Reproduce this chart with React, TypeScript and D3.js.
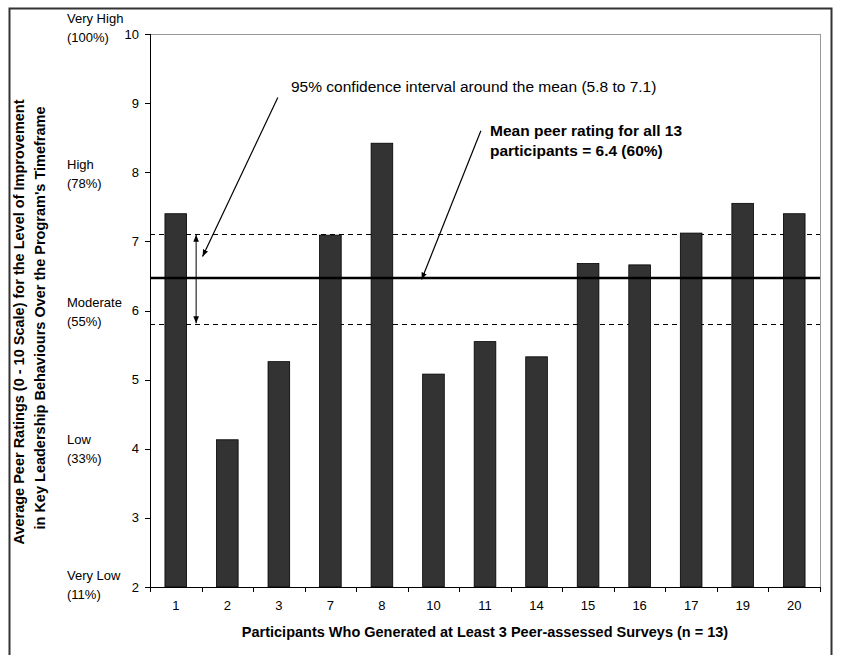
import React from "react";
import * as d3 from "d3";

const participants = ["1", "2", "3", "7", "8", "10", "11", "14", "15", "16", "17", "19", "20"];
const ratings = [7.4, 4.13, 5.26, 7.09, 8.42, 5.08, 5.55, 5.33, 6.68, 6.66, 7.12, 7.55, 7.4];
const meanRating = 6.47;
const ciLow = 5.8;
const ciHigh = 7.11;
const yTicks = [2, 3, 4, 5, 6, 7, 8, 9, 10];
const levelNames = ["Very High", "High", "Moderate", "Low", "Very Low"];
const levelPcts = ["(100%)", "(78%)", "(55%)", "(33%)", "(11%)"];
const levelAt = [10.22, 8.11, 6.11, 4.13, 2.16];

const W = 841;
const H = 655;
const M = { left: 150, right: 21, top: 34, bottom: 68 };
const FONT = "Arial, 'Liberation Sans', Helvetica, sans-serif";

export default function App() {
  const x = d3
    .scaleBand<string>()
    .domain(participants)
    .range([M.left, W - M.right])
    .paddingInner(0.58)
    .paddingOuter(0.29);
  const y = d3.scaleLinear().domain([2, 10]).range([H - M.bottom, M.top]);
  const step = x.step();
  const x0 = M.left;
  const xu = (u: number) => x0 + u * step;
  const x1 = W - M.right;

  const ciArrowX = xu(0.895);
  const ciLabelTail = { x: xu(2.48), y: y(9.08) };
  const ciLabelHead = { x: xu(1.02), y: y(6.78) };
  const meanTail = { x: xu(6.42), y: y(8.6) };
  const meanHead = { x: xu(5.27), y: y(meanRating) + 1.5 };

  return (
    <svg
      width={W}
      height={H}
      style={{ position: "absolute", left: 0, top: 0, background: "#fff" }}
      fontFamily={FONT}
    >
      <defs>
        <marker id="ah" viewBox="0 0 10 10" refX="10" refY="5" markerWidth="7" markerHeight="7" orient="auto-start-reverse" markerUnits="userSpaceOnUse">
          <path d="M0,1 L10,5 L0,9 z" fill="#000" />
        </marker>
      </defs>
      <rect x={9.5} y={8.5} width={822} height={660} fill="none" stroke="#333" strokeWidth={2} />

      {/* plot area border */}
      <line x1={M.left} x2={x1} y1={M.top + 0.5} y2={M.top + 0.5} stroke="#999" strokeWidth={1} />
      <line x1={x1 + 0.5} x2={x1 + 0.5} y1={M.top} y2={y(2)} stroke="#999" strokeWidth={1} />

      {/* CI dashed lines */}
      {[ciLow, ciHigh].map((v) => (
        <line key={v} x1={M.left} x2={x1} y1={Math.round(y(v)) + 0.5} y2={Math.round(y(v)) + 0.5} stroke="#000" strokeWidth={1} strokeDasharray="5,4" />
      ))}

      {/* bars */}
      {participants.map((p, i) => (
        <rect
          key={p}
          x={x(p)!}
          y={y(ratings[i])}
          width={x.bandwidth()}
          height={y(2) - y(ratings[i])}
          fill="#333333"
          stroke="#000"
          strokeWidth={0.8}
        />
      ))}

      {/* mean line */}
      <line x1={M.left} x2={x1} y1={y(meanRating)} y2={y(meanRating)} stroke="#000" strokeWidth={2.5} />

      {/* y axis */}
      <line x1={M.left + 0.5} x2={M.left + 0.5} y1={M.top} y2={y(2)} stroke="#000" strokeWidth={1} />
      {yTicks.map((t) => (
        <g key={t}>
          <line x1={M.left - 5} x2={M.left} y1={Math.round(y(t)) + 0.5} y2={Math.round(y(t)) + 0.5} stroke="#000" />
          <text x={M.left - 11} y={y(t)} dy="0.35em" textAnchor="end" fontSize={13}>
            {t}
          </text>
        </g>
      ))}

      {/* x axis */}
      <line x1={M.left} x2={x1 + 1} y1={Math.round(y(2)) + 0.5} y2={Math.round(y(2)) + 0.5} stroke="#000" strokeWidth={1} />
      {d3.range(participants.length + 1).map((k) => (
        <line key={k} x1={Math.round(xu(k)) + 0.5} x2={Math.round(xu(k)) + 0.5} y1={y(2)} y2={y(2) + 5} stroke="#000" />
      ))}
      {participants.map((p) => (
        <text key={p} x={x(p)! + x.bandwidth() / 2} y={y(2) + 18} dy="0.35em" textAnchor="middle" fontSize={13}>
          {p}
        </text>
      ))}

      {/* level labels */}
      {levelNames.map((n, i) => (
        <g key={n}>
          <text x={67} y={y(levelAt[i])} dy="0.35em" fontSize={13}>{n}</text>
          <text x={67} y={y(levelAt[i]) + 19} dy="0.35em" fontSize={13}>{levelPcts[i]}</text>
        </g>
      ))}

      {/* axis titles */}
      <text transform={`translate(24,${322}) rotate(-90)`} textAnchor="middle" fontSize={14.5} fontWeight="bold">
        Average Peer Ratings (0 - 10 Scale) for the Level of Improvement
      </text>
      <text transform={`translate(45,${318}) rotate(-90)`} textAnchor="middle" fontSize={14.5} fontWeight="bold">
        in Key Leadership Behaviours Over the Program's Timeframe
      </text>
      <text x={485} y={632} dy="0.35em" textAnchor="middle" fontSize={14.5} fontWeight="bold">
        Participants Who Generated at Least 3 Peer-assessed Surveys (n = 13)
      </text>

      {/* CI double arrow */}
      <line x1={ciArrowX} x2={ciArrowX} y1={y(ciHigh) + 1} y2={y(ciLow) - 1} stroke="#000" strokeWidth={1} markerStart="url(#ah)" markerEnd="url(#ah)" />

      {/* annotations */}
      <text x={291} y={87} dy="0.35em" fontSize={15.5}>
        95% confidence interval around the mean (5.8 to 7.1)
      </text>
      <line x1={ciLabelTail.x} y1={ciLabelTail.y} x2={ciLabelHead.x} y2={ciLabelHead.y} stroke="#000" strokeWidth={1.2} markerEnd="url(#ah)" />

      <text x={490} y={131} dy="0.35em" fontSize={15.5} fontWeight="bold">
        Mean peer rating for all 13
      </text>
      <text x={490} y={151} dy="0.35em" fontSize={15.5} fontWeight="bold">
        participants = 6.4 (60%)
      </text>
      <line x1={meanTail.x} y1={meanTail.y} x2={meanHead.x} y2={meanHead.y} stroke="#000" strokeWidth={1.2} markerEnd="url(#ah)" />
    </svg>
  );
}
